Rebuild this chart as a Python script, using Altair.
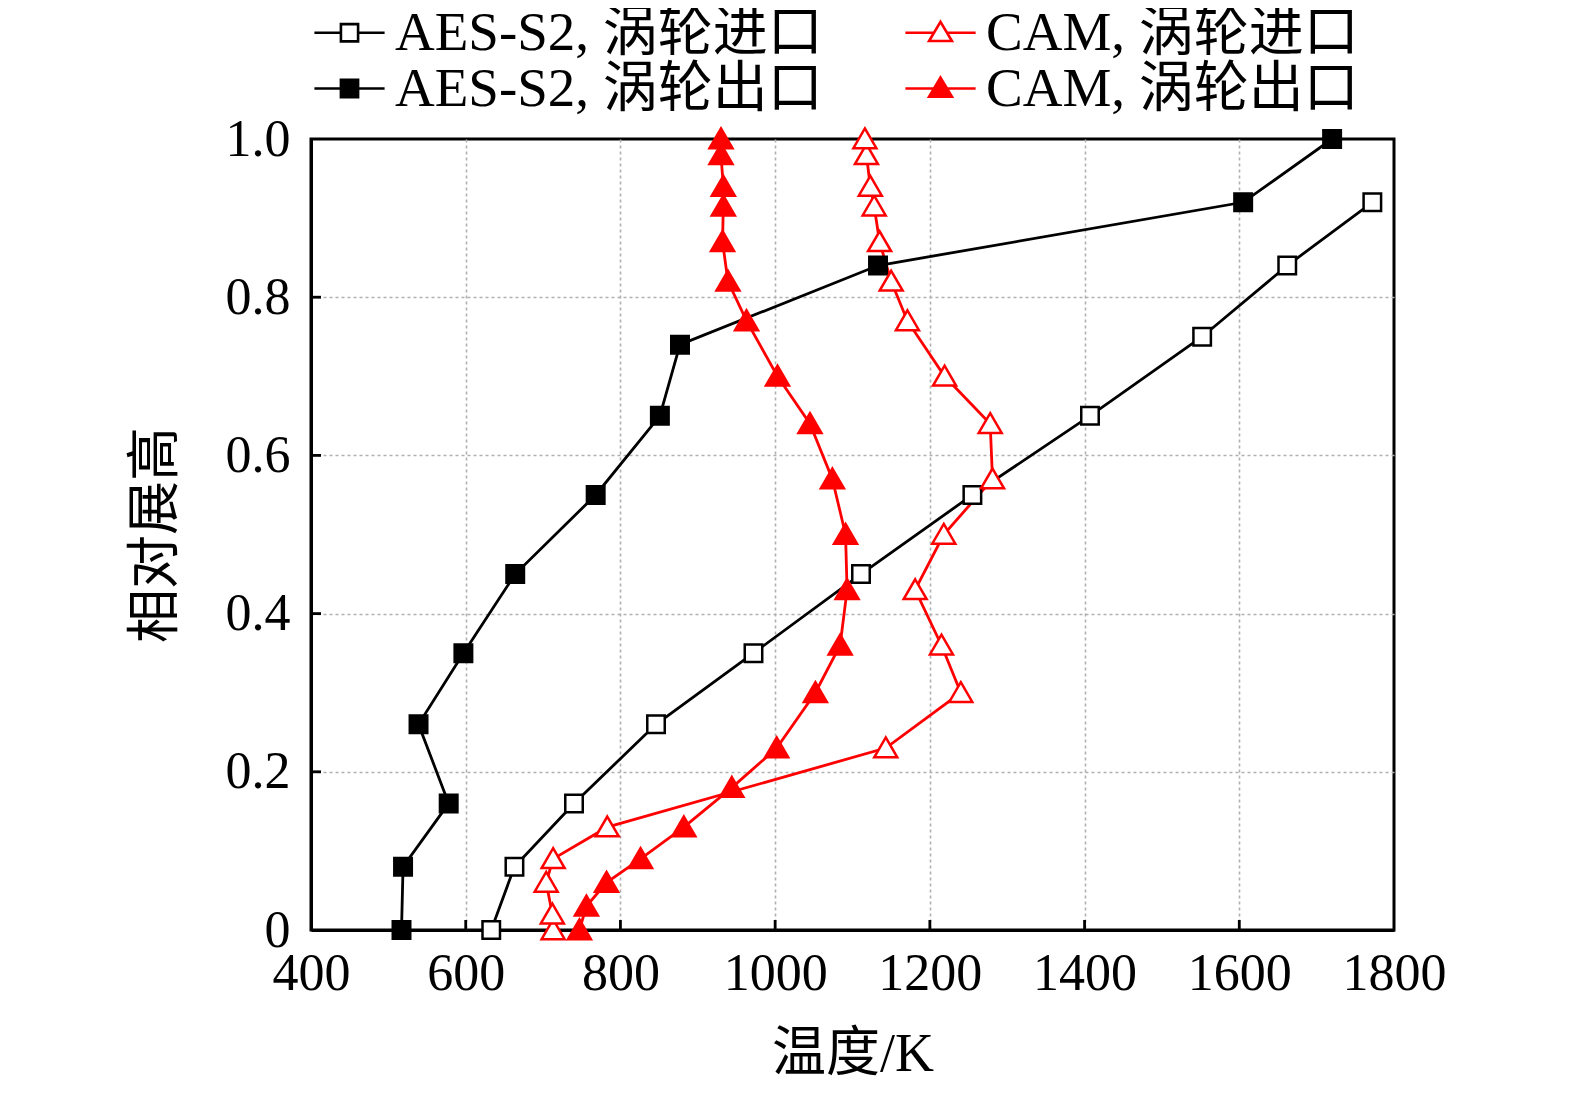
import altair as alt
import pandas as pd

# ---- data ----
S_AES_IN = "AES-S2, 涡轮进口"
S_AES_OUT = "AES-S2, 涡轮出口"
S_CAM_IN = "CAM, 涡轮进口"
S_CAM_OUT = "CAM, 涡轮出口"

aes_in_T = [633, 663, 740, 846, 972, 1111, 1255, 1407, 1552, 1662, 1772]
aes_in_h = [0.0, 0.08, 0.16, 0.26, 0.35, 0.45, 0.55, 0.65, 0.75, 0.84, 0.92]

aes_out_T = [517, 519, 578, 539, 597, 664, 768, 851, 877, 1133, 1605, 1720]
aes_out_h = [0.0, 0.08, 0.16, 0.26, 0.35, 0.45, 0.55, 0.65, 0.74, 0.84, 0.92, 1.0]

cam_in_T = [713, 712, 704, 713, 783, 1143, 1240, 1215, 1181, 1218, 1281, 1278,
            1219, 1171, 1150, 1135, 1128, 1123, 1118, 1116]
cam_in_h = [0.0, 0.02, 0.06, 0.09, 0.13, 0.23, 0.30, 0.36, 0.43, 0.50, 0.57, 0.64,
            0.70, 0.77, 0.82, 0.87, 0.915, 0.94, 0.98, 1.0]

cam_out_T = [747, 756, 782, 826, 882, 944, 1002, 1052, 1084, 1093, 1091, 1074,
             1045, 1003, 963, 939, 932, 933, 933, 930, 930]
cam_out_h = [0.0, 0.03, 0.06, 0.09, 0.13, 0.18, 0.23, 0.30, 0.36, 0.43, 0.50, 0.57,
             0.64, 0.70, 0.77, 0.82, 0.87, 0.915, 0.94, 0.98, 1.0]

x_ticks = [400, 600, 800, 1000, 1200, 1400, 1600, 1800]
y_ticks = [0.0, 0.2, 0.4, 0.6, 0.8, 1.0]
x_inner_ticks = [600, 800, 1000, 1200, 1400, 1600]
y_inner_ticks = [0.2, 0.4, 0.6, 0.8]

rows = []
for name, Ts, hs in [(S_AES_IN, aes_in_T, aes_in_h), (S_AES_OUT, aes_out_T, aes_out_h),
                     (S_CAM_IN, cam_in_T, cam_in_h), (S_CAM_OUT, cam_out_T, cam_out_h)]:
    for i, (t, h) in enumerate(zip(Ts, hs)):
        rows.append({"series": name, "T": t, "h": h, "idx": i})
df = pd.DataFrame(rows)

domain = [S_AES_IN, S_AES_OUT, S_CAM_IN, S_CAM_OUT]
RED = "#ff0000"
stroke_range = ["black", "black", RED, RED]
fill_range = ["white", "black", "white", RED]

SQ = "M-0.76,-0.76L0.76,-0.76L0.76,0.76L-0.76,0.76Z"
TRI = "M0,-0.92L1,0.8L-1,0.8Z"
shape_range = [SQ, SQ, TRI, TRI]

LEG_SQ = "M-1.35,0L-0.33,0M0.33,0L1.35,0M-0.33,-0.33L0.33,-0.33L0.33,0.33L-0.33,0.33Z"
LEG_TRI = "M-1.35,0L-0.24,0M0.24,0L1.35,0M0,-0.42L0.44,0.32L-0.44,0.32Z"
legend_shape_range = [LEG_SQ, LEG_SQ, LEG_TRI, LEG_TRI]

W, H = 1083, 791
FONT = "Liberation Serif, Times New Roman, Noto Sans CJK SC"

legend = alt.Legend(
    title=None, orient="none", legendX=11, legendY=-134, columns=2,
    columnPadding=77, rowPadding=0, labelOffset=18, padding=0,
    labelFont=FONT, labelFontSize=55, labelColor="black", labelLimit=0,
    symbolSize=2704, symbolStrokeWidth=2.6, symbolOpacity=1,
)

x_enc = alt.X("T:Q", scale=alt.Scale(domain=[400, 1800], nice=False, zero=False),
              axis=alt.Axis(values=x_ticks, title="温度/K", format="d",
                            labelFlush=False, labelOverlap=False, labelPadding=18,
                            gridOpacity={"condition": {"test": "datum.value <= 400 || datum.value >= 1800",
                                                       "value": 0}, "value": 1},
                            titleX=W / 2, titleY=124, titleBaseline="middle"))
y_enc = alt.Y("h:Q", scale=alt.Scale(domain=[0, 1], nice=False, zero=False),
              axis=alt.Axis(values=y_ticks, title="相对展高",
                            labelExpr="datum.value == 0 ? '0' : format(datum.value, '.1f')",
                            labelPadding=21, labelOverlap=False,
                            gridOpacity={"condition": {"test": "datum.value <= 0 || datum.value >= 1",
                                                       "value": 0}, "value": 1},
                            titleX=-155, titleY=H / 2, titleBaseline="middle"))

base = alt.Chart(df)

lines = base.mark_line(strokeWidth=2.8).encode(
    x=x_enc, y=y_enc,
    stroke=alt.Stroke("series:N", scale=alt.Scale(domain=domain, range=stroke_range), legend=None),
    detail="series:N",
    order="idx:Q",
)

points = base.mark_point(size=529, strokeWidth=2.5, opacity=1).encode(
    x=x_enc, y=y_enc,
    stroke=alt.Stroke("series:N", scale=alt.Scale(domain=domain, range=stroke_range), legend=None),
    fill=alt.Fill("series:N", scale=alt.Scale(domain=domain, range=fill_range), legend=None),
    shape=alt.Shape("series:N", scale=alt.Scale(domain=domain, range=shape_range), legend=None),
)

# legend-only layer (no marks drawn: filter leaves it empty), symbols carry the line stubs
legend_layer = base.transform_filter("datum.h > 2").mark_point(strokeWidth=2.6, opacity=1).encode(
    x=x_enc, y=y_enc,
    stroke=alt.Stroke("series:N", scale=alt.Scale(domain=domain, range=stroke_range), legend=legend),
    fill=alt.Fill("series:N", scale=alt.Scale(domain=domain, range=fill_range), legend=legend),
    shape=alt.Shape("series:N", scale=alt.Scale(domain=domain, range=legend_shape_range), legend=legend),
)

xt = alt.Chart(pd.DataFrame({"T": x_inner_ticks})).mark_rule(color="black", strokeWidth=2.8).encode(
    x=x_enc, y=alt.value(H), y2=alt.value(H - 10))
yt = alt.Chart(pd.DataFrame({"h": y_inner_ticks})).mark_rule(color="black", strokeWidth=2.8).encode(
    y=y_enc, x=alt.value(0), x2=alt.value(10))

chart = alt.layer(lines, points, legend_layer, xt, yt).resolve_scale(
    stroke="independent", fill="independent", shape="independent"
).properties(
    width=W, height=H,
    autosize=alt.AutoSizeParams(type="none"),
    padding={"left": 303, "top": 131, "right": 170, "bottom": 156},
).configure_view(
    stroke="black", strokeWidth=3
).configure_axis(
    labelFont=FONT, labelFontSize=52, labelColor="black",
    titleFont=FONT, titleFontSize=54, titleFontWeight="normal", titleColor="black",
    domainColor="black", domainWidth=3,
    grid=True, gridColor="#b0b0b0", gridDash=[3, 3], gridWidth=1.6,
    ticks=False, tickSize=0,
)

chart.save("out.html", embed_options={"renderer": "svg", "actions": False})
